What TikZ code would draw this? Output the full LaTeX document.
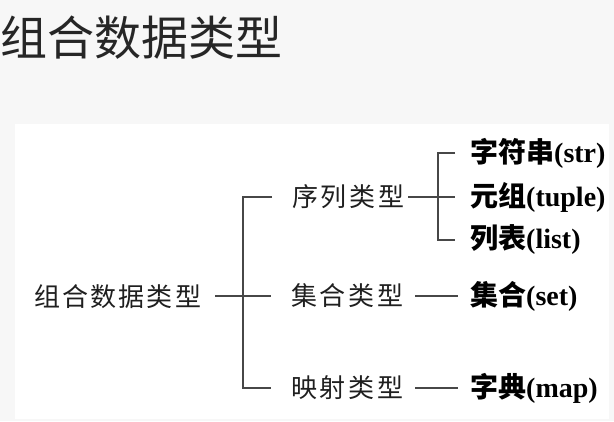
\documentclass[tikz,border=0pt]{standalone}
\usepackage{fontspec}
\newfontfamily\cjk{Noto Sans CJK SC}
\newfontfamily\latb{Liberation Serif}
\begin{document}
\begin{tikzpicture}[x=1pt,y=-1pt,
  conn/.style={draw=black!72, line width=1.1pt},
  lbl/.style={inner sep=0pt, anchor=west, text=black!88},
  midtxt/.style={lbl, font=\cjk\fontsize{26}{26}\selectfont},
  bold/.style={lbl, text=black, font=\fontsize{28}{28}\selectfont}]
\fill[black!3] (0,0) rectangle (614,421);
\fill[white] (15,124) rectangle (609,419);
\useasboundingbox (0,0) rectangle (614,421);
\node[lbl, text=black!85, font=\cjk\fontsize{47}{47}\selectfont] (title) at (0,38) {组合数据类型};
\node[midtxt] (root) at (34,297) {\makebox[167pt][s]{组\hfill 合\hfill 数\hfill 据\hfill 类\hfill 型}};
\node[midtxt] (seq) at (292,197) {\makebox[112pt][s]{序\hfill 列\hfill 类\hfill 型}};
\node[midtxt] (set) at (291,296) {\makebox[112pt][s]{集\hfill 合\hfill 类\hfill 型}};
\node[midtxt] (map) at (291,388) {\makebox[112pt][s]{映\hfill 射\hfill 类\hfill 型}};
\node[bold] (str) at (470,153) {{\cjk\bfseries 字符串}{\latb\bfseries (str)}};
\node[bold] (tup) at (470,197) {{\cjk\bfseries 元组}{\latb\bfseries (tuple)}};
\node[bold] (lst) at (470,240) {{\cjk\bfseries 列表}{\latb\bfseries (list)}};
\node[bold] (setr) at (470,296) {{\cjk\bfseries 集合}{\latb\bfseries (set)}};
\node[bold] (mapr) at (470,388) {{\cjk\bfseries 字典}{\latb\bfseries (map)}};
\coordinate (trunk) at (243,0);
\coordinate (br) at (438,0);
\coordinate (r1) at ([xshift=14pt]root.east);
\coordinate (s1) at ([xshift=4pt]seq.east);
\coordinate (t1) at ([xshift=-15pt]tup.west);
\draw[conn] ([xshift=-20pt]seq.west) -- (seq.west -| trunk) -- (map.west -| trunk) -- ([xshift=-20pt]map.west);
\draw[conn] (r1 |- set.west) -- ([xshift=-20pt]set.west);
\draw[conn] (s1) -- (t1 |- s1);
\draw[conn] ([xshift=-15pt]str.west) -- (str.west -| br) -- (lst.west -| br) -- ([xshift=-15pt]lst.west);
\draw[conn] ([xshift=12pt]set.east) -- ([xshift=-12pt]setr.west);
\draw[conn] ([xshift=12pt]map.east) -- ([xshift=-12pt]mapr.west);
\end{tikzpicture}
\end{document}
